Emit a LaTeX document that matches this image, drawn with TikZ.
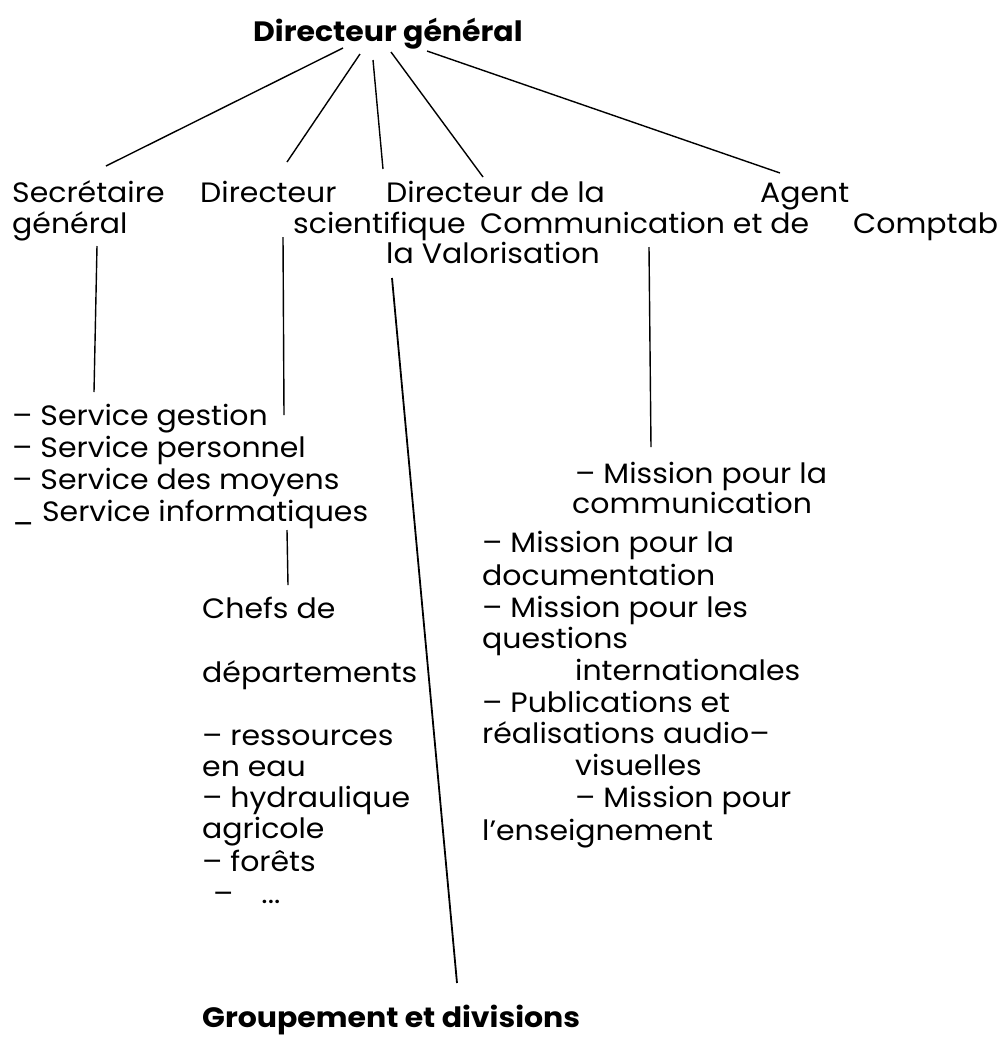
\documentclass[tikz,border=0pt]{standalone}
\usepackage{fontspec}
\setmainfont[FakeStretch=1.07]{Poppins}
\begin{document}
\begin{tikzpicture}[x=1pt,y=-1pt,
    txt/.style={anchor=base west,inner sep=0pt,font=\fontsize{28}{32}\selectfont},
    head/.style={txt,font=\fontsize{28}{32}\selectfont\bfseries},
    link/.style={line width=1.4pt}]
\useasboundingbox[fill=white] (0,0) rectangle (1003,1037);

% direction
\node[head] (dg) at (253,41) {Directeur général};

% first row
\node[txt] (sg1) at (12,202) {Secrétaire};
\node[txt] (sg2) at (12,233) {général};
\node[txt] (ds1) at (200,202) {Directeur};
\node[txt] (ds2) at (293,233) {scientifique};
\node[txt] (dc1) at (386,202) {Directeur de la};
\node[txt] (dc2) at (480,233) {Communication et de};
\node[txt] (dc3) at (386,263) {la Valorisation};
\node[txt] (ac1) at (760,202) {Agent};
\node[txt] (ac2) at (853,233) {Comptab};

% services of the secretary
\foreach \t [count=\i] in {{– Service gestion},{– Service personnel},{– Service des moyens},{\_ Service informatiques}}
  \node[txt] (sv\i) at (12,{425+32.3*(\i-1)}) {\t};

% chefs de departements
\node[txt] (ch1) at (202,618) {Chefs de};
\node[txt] (ch2) at (202,682) {départements};
\foreach \t/\y [count=\i] in {{– ressources}/745,{en eau}/776,{– hydraulique}/807,{agricole}/838,{– forêts}/871}
  \node[txt] (dp\i) at (202,\y) {\t};
\node[txt] (dp6) at (213,903) {–\hspace{1em}...};

% missions
\node[txt] (mc1) at (575,483) {– Mission pour la};
\node[txt] (mc2) at (572,513) {communication};
\node[txt] (ms1) at (482,552) {– Mission pour la};
\node[txt] (ms2) at (482,585) {documentation};
\node[txt] (ms3) at (482,617) {– Mission pour les};
\node[txt] (ms4) at (482,648) {questions};
\node[txt] (ms5) at (575,680) {internationales};
\node[txt] (ms6) at (482,712) {– Publications et};
\node[txt] (ms7) at (482,743) {réalisations audio–};
\node[txt] (ms8) at (575,775) {visuelles};
\node[txt] (ms9) at (575,807) {– Mission pour};
\node[txt] (ms10) at (482,840) {l’enseignement};

\node[head] (gd) at (202,1027) {Groupement et divisions};

% line ends
\coordinate (t1) at (343,48);  \coordinate (b1) at (106,166);
\coordinate (t2) at (360,54);  \coordinate (b2) at (287,162);
\coordinate (t3) at (373,60);  \coordinate (b3) at (383,169);
\coordinate (t4) at (391,52);  \coordinate (b4) at (483,177);
\coordinate (t5) at (427,51);  \coordinate (b5) at (780,173);
\coordinate (v1a) at (97,246);  \coordinate (v1b) at (94,392);
\coordinate (v2a) at (283,237); \coordinate (v2b) at (284,415);
\coordinate (v3a) at (287,530); \coordinate (v3b) at (288,585);
\coordinate (v4a) at (649,247); \coordinate (v4b) at (651,447);
\coordinate (v5a) at (392,278); \coordinate (v5b) at (457,983);

\foreach \i in {1,...,5}
  \draw[link] (t\i) -- (b\i);
\foreach \i in {1,...,4}
  \draw[link] (v\i a) -- (v\i b);
\draw[link,line width=1.8pt] (v5a) -- (v5b);
\end{tikzpicture}
\end{document}
